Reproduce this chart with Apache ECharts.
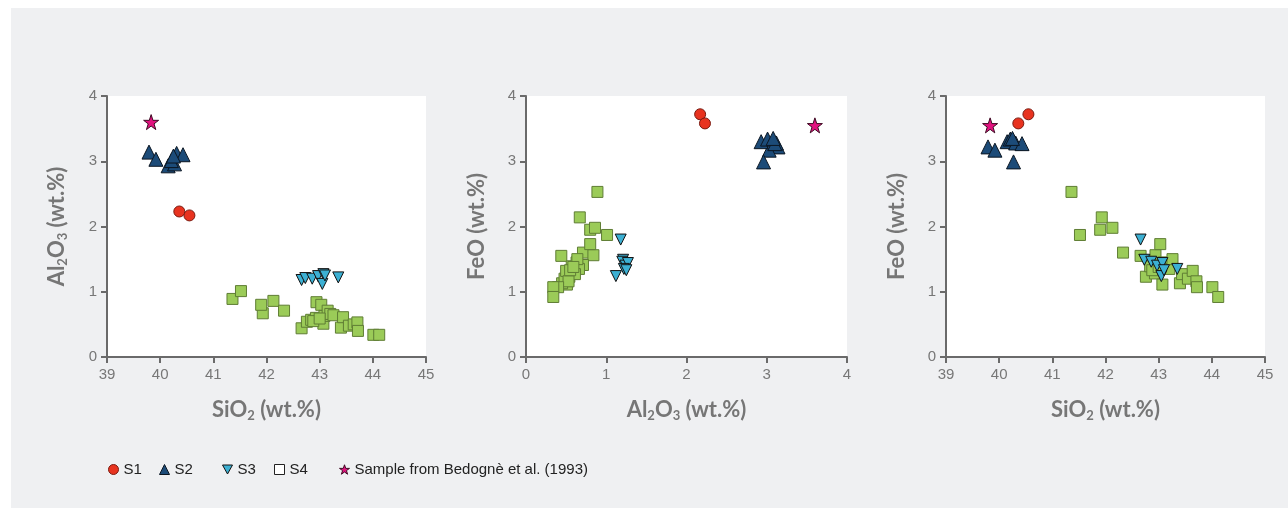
<!DOCTYPE html>
<html>
<head>
<meta charset="utf-8">
<script src="https://cdn.jsdelivr.net/npm/echarts@6/dist/echarts.min.js"></script>
<style>
html,body{margin:0;padding:0;background:#ffffff;}
#frame{position:absolute;left:11px;top:8px;width:1277px;height:500px;background:#eff0f2;}
#chart{position:absolute;left:0;top:0;width:1288px;height:508px;}
</style>
</head>
<body>
<div id="frame"></div>
<div id="chart"></div>
<script>
// ---- Data (wt.%) ----
const s1_SiO2  = [40.55, 40.36];
const s1_Al2O3 = [2.17, 2.23];
const s1_FeO   = [3.72, 3.58];

const s2_SiO2  = [39.79, 39.92, 40.15, 40.27, 40.21, 40.31, 40.43, 40.25];
const s2_Al2O3 = [3.14, 3.03, 2.93, 2.96, 3.01, 3.12, 3.10, 3.08];
const s2_FeO   = [3.22, 3.17, 3.30, 2.99, 3.34, 3.28, 3.27, 3.35];

const s3_SiO2  = [42.66, 42.73, 42.86, 42.97, 43.07, 43.05, 43.35, 43.10];
const s3_Al2O3 = [1.18, 1.21, 1.20, 1.24, 1.27, 1.12, 1.22, 1.25];
const s3_FeO   = [1.80, 1.49, 1.46, 1.40, 1.44, 1.24, 1.35, 1.33];

const s4_SiO2  = [41.36, 41.52, 41.93, 41.90, 42.13, 42.33, 42.66, 42.76, 42.84, 42.93, 42.94, 43.03, 43.07, 43.09,
                  43.15, 43.20, 43.26, 43.40, 43.44, 43.55, 43.64, 43.71, 43.72, 44.01, 44.12, 42.88, 43.00];
const s4_Al2O3 = [0.89, 1.01, 0.67, 0.80, 0.86, 0.71, 0.44, 0.54, 0.57, 0.60, 0.84, 0.80, 0.51, 0.63,
                  0.71, 0.66, 0.64, 0.45, 0.61, 0.48, 0.50, 0.53, 0.40, 0.34, 0.34, 0.55, 0.59];
const s4_FeO   = [2.53, 1.87, 2.14, 1.95, 1.98, 1.60, 1.55, 1.23, 1.39, 1.28, 1.56, 1.73, 1.11, 1.45,
                  1.41, 1.35, 1.50, 1.13, 1.27, 1.20, 1.32, 1.16, 1.07, 1.07, 0.92, 1.33, 1.38];

const ref_SiO2  = [39.83];
const ref_Al2O3 = [3.60];
const ref_FeO   = [3.55];

const ticksSiO2  = [39, 40, 41, 42, 43, 44, 45];
const ticksAl2O3 = [0, 1, 2, 3, 4];
const ticksFeO   = [0, 1, 2, 3, 4];

const seriesNames = ['S1', 'S2', 'S3', 'S4', 'Sample from Bedognè et al. (1993)'];

// ---- helpers ----
const zip = (a, b) => a.map((v, i) => [v, b[i]]);
const groups = {
  'S1': {SiO2: s1_SiO2, Al2O3: s1_Al2O3, FeO: s1_FeO},
  'S2': {SiO2: s2_SiO2, Al2O3: s2_Al2O3, FeO: s2_FeO},
  'S3': {SiO2: s3_SiO2, Al2O3: s3_Al2O3, FeO: s3_FeO},
  'S4': {SiO2: s4_SiO2, Al2O3: s4_Al2O3, FeO: s4_FeO},
  'Sample from Bedognè et al. (1993)': {SiO2: ref_SiO2, Al2O3: ref_Al2O3, FeO: ref_FeO}
};
const ticks = {SiO2: ticksSiO2, Al2O3: ticksAl2O3, FeO: ticksFeO};

const starPath = 'path://M50,0 L61.8,35.4 L99,35.4 L69,57.3 L80.4,92.7 L50,70.8 L19.6,92.7 L31,57.3 L1,35.4 L38.2,35.4 Z';

const styles = {
  'S1': {symbol: 'circle', size: 11, rotate: 0, color: '#e8331f', border: '#7a1a10', z: 4},
  'S2': {symbol: 'triangle', size: 14, rotate: 0, color: '#1c4b78', border: '#0b1622', z: 3},
  'S3': {symbol: 'triangle', size: 11, rotate: 180, color: '#3cb0d3', border: '#111', z: 3},
  'S4': {symbol: 'rect', size: 11, rotate: 0, color: '#9bcb58', border: '#5f7d34', z: 2},
  'Sample from Bedognè et al. (1993)': {symbol: starPath, size: 15, rotate: 0, color: '#e2127f', border: '#3d0a22', z: 5}
};

const panels = [
  {x: 'SiO2', y: 'Al2O3', left: 107, width: 319},
  {x: 'Al2O3', y: 'FeO', left: 526, width: 321},
  {x: 'SiO2', y: 'FeO', left: 946, width: 319}
];

const nameRich = {
  a: {fontFamily: 'Lato', fontWeight: 'bold', fontSize: 22, color: '#767676'},
  s: {fontFamily: 'Lato', fontWeight: 'bold', fontSize: 13, color: '#767676', padding: [12, 0, 0, 0]}
};
const axisNames = {
  SiO2: '{a|SiO}{s|2}{a| (wt.%)}',
  Al2O3: '{a|Al}{s|2}{a|O}{s|3}{a| (wt.%)}',
  FeO: '{a|FeO (wt.%)}'
};

const grid = [], xAxis = [], yAxis = [], series = [];
panels.forEach((p, i) => {
  grid.push({left: p.left, top: 96, width: p.width, height: 261, show: true,
             backgroundColor: '#ffffff', borderWidth: 0, containLabel: false});
  const mk = (key, isX) => {
    const t = ticks[key];
    return {
      type: 'value', gridIndex: i, min: t[0], max: t[t.length - 1], interval: t[1] - t[0],
      name: axisNames[key], nameLocation: 'middle', nameGap: isX ? 40 : 38,
      nameTextStyle: {rich: nameRich},
      axisLine: {show: true, onZero: false, lineStyle: {color: '#6a6a6a', width: 2}},
      axisTick: {show: true, inside: false, length: 6, lineStyle: {color: '#6a6a6a', width: 2}},
      axisLabel: {color: '#777', fontSize: 15, fontFamily: 'Liberation Sans', margin: 10},
      splitLine: {show: false}
    };
  };
  xAxis.push(mk(p.x, true));
  yAxis.push(mk(p.y, false));
  seriesNames.forEach(n => {
    const st = styles[n];
    series.push({
      name: n, type: 'scatter', xAxisIndex: i, yAxisIndex: i,
      data: zip(groups[n][p.x], groups[n][p.y]),
      symbol: st.symbol, symbolSize: st.size, symbolRotate: st.rotate, z: st.z,
      itemStyle: {color: st.color, borderColor: st.border, borderWidth: 1, opacity: 1},
      emphasis: {disabled: true}
    });
  });
});

const legendLeft = [108, 159, 222, 274, 339];
const legend = seriesNames.map((n, k) => {
  const st = styles[n];
  const d = {name: n, icon: st.symbol, itemStyle: {color: st.color, borderColor: st.border, borderWidth: 1}};
  if (n === 'S4') d.itemStyle = {color: '#ffffff', borderColor: '#222', borderWidth: 1};
  if (n === 'S3') d.icon = 'path://M0,0 L10,0 L5,9 Z';
  return {
    data: [d], left: legendLeft[k], top: 462, itemWidth: 10, itemHeight: 10,
    selectedMode: false, padding: 0,
    textStyle: {color: '#222', fontSize: 15, fontFamily: 'Liberation Sans'}
  };
});

const chart = echarts.init(document.getElementById('chart'), null, {renderer: 'canvas'});
chart.setOption({
  backgroundColor: 'transparent',
  animation: false,
  grid, xAxis, yAxis, series, legend
});
</script>
</body>
</html>
